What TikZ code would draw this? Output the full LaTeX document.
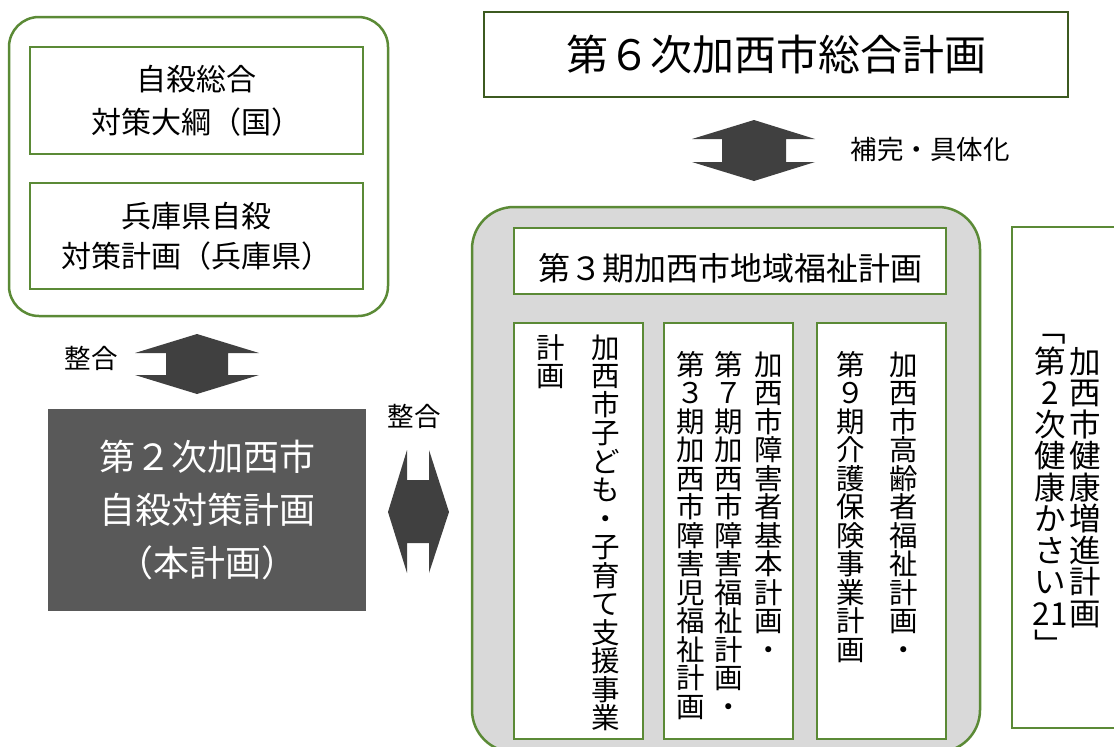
\documentclass[tikz,border=0pt]{standalone}
\usepackage{fontspec}
\setmainfont{Noto Sans CJK JP}
\definecolor{grn}{HTML}{5B8A36}
\definecolor{dgrn}{HTML}{3C5A20}
\definecolor{arr}{HTML}{404040}
\definecolor{dk}{HTML}{595959}
\definecolor{lg}{HTML}{D9D9D9}
\def\vstopmark{\vstop}
\def\vcolA#1{\def\vtmp{#1}\ifx\vtmp\vstopmark\else\hbox to 1em{\hss\vrule height .88em depth .12em width 0pt\relax#1\hss}\expandafter\vcolA\fi}
\newcommand\vcol[1]{\vbox{\offinterlineskip\vcolA#1\vstop}}
\newcommand\fs[2]{\fontsize{#1}{#2}\selectfont}
\begin{document}
\begin{tikzpicture}[x=1pt,y=-1pt,
  gbox/.style={draw=grn, line width=2pt, fill=white, inner sep=0pt, align=center},
  outerbox/.style={draw=grn, line width=2.5pt, rounded corners=30pt, inner sep=0pt},
  graybox/.style={draw=grn, line width=2.5pt, fill=lg, rounded corners=42pt, inner sep=0pt},
  vtext/.style={inner sep=0pt, anchor=north},
  blockarrow/.style={fill=arr},
  lbl/.style={inner sep=0pt, font=\fs{26.5}{30}}]
\useasboundingbox (0,0) rectangle (1114,747);
\clip (0,0) rectangle (1114,747);

% left group
\node[outerbox, minimum width=379pt, minimum height=299pt] (L) at (198.5,166.5) {};
\node[gbox, minimum width=333pt, minimum height=107pt, font=\fs{30}{43}] (b1) at (196.5,100.5) {自殺総合\\対策大綱（国）};
\node[gbox, minimum width=333pt, minimum height=106pt, font=\fs{30}{40}] (b2) at (196.5,236) {兵庫県自殺\\対策計画（兵庫県）};

% left arrow
\fill[blockarrow] (197,334) -- (259,353) -- (228,353) -- (228,375) -- (259,375) -- (197,394) -- (135,375) -- (166,375) -- (166,353) -- (135,353) -- cycle;
\node[lbl] (s1) at (91,358) {整合};

% main plan
\node[fill=dk, text=white, minimum width=318pt, minimum height=202pt, inner sep=0pt, align=center, font=\fs{36}{53}] (main) at (207,510) {第２次加西市\\自殺対策計画\\（本計画）};

% right arrow
\node[lbl] (s2) at (414,416) {整合};
\fill[blockarrow] (407,450) -- (407,480) -- (429,480) -- (429,450) -- (449,512) -- (429,573) -- (429,543) -- (407,543) -- (407,573) -- (388,512) -- cycle;

% top plan
\node[draw=dgrn, line width=2.5pt, fill=white, minimum width=584pt, minimum height=85pt, inner sep=0pt, font=\fs{42}{46}] (top) at (776,54.5) {第６次加西市総合計画};

% top arrow
\fill[blockarrow] (754,120) -- (815,139) -- (786,139) -- (786,162) -- (815,162) -- (754,181) -- (692,162) -- (722,162) -- (722,139) -- (692,139) -- cycle;
\node[lbl] (hk) at (930,149) {補完・具体化};

% welfare group
\node[graybox, minimum width=508pt, minimum height=545pt] (G) at (726,479.5) {};
\node[gbox, minimum width=432pt, minimum height=66pt] (t3) at (730,261) {};
\node[inner sep=0pt, font=\fs{32}{36}] (t3t) at (730,268) {第３期加西市地域福祉計画};

\node[gbox, minimum width=129pt, minimum height=416pt] (bA) at (578.5,531) {};
\node[gbox, minimum width=129pt, minimum height=416pt] (bB) at (728.5,531) {};
\node[gbox, minimum width=129pt, minimum height=416pt] (bC) at (881.5,531) {};

\begin{scope}[font=\fs{28.5}{28.5}]
\node[vtext] (a1) at (606,333) {\vcol{加西市子ども・子育て支援事業}};
\node[vtext] (a2) at (551,333) {\vcol{計画}};
\node[vtext] (bb1) at (769,350) {\vcol{加西市障害者基本計画・}};
\node[vtext] (bb2) at (728.5,350) {\vcol{第７期加西市障害福祉計画・}};
\node[vtext] (bb3) at (691,350) {\vcol{第３期加西市障害児福祉計画}};
\node[vtext] (c1) at (904,350) {\vcol{加西市高齢者福祉計画・}};
\node[vtext] (c2) at (851,350) {\vcol{第９期介護保険事業計画}};
\end{scope}

% health plan
\node[gbox, minimum width=118pt, minimum height=501pt] (D) at (1071,477.5) {};
\begin{scope}[font=\fs{31.5}{31.5}]
\node[vtext] (d1) at (1085,345.5) {\vcol{加西市健康増進計画}};
\node[vtext] (d2) at (1050,314) {\vcol{﹁第{2}次健康かさい{21}﹂}};
\end{scope}
\end{tikzpicture}
\end{document}
